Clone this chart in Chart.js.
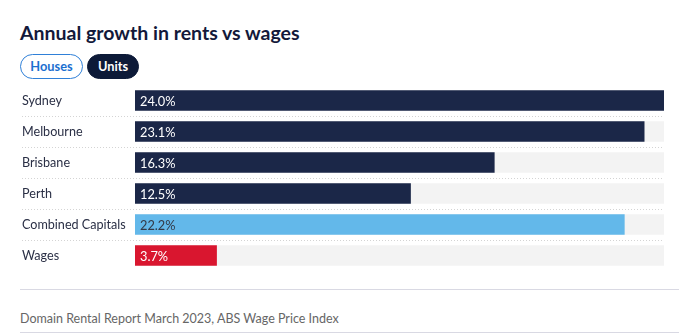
<!DOCTYPE html>
<html><head><meta charset="utf-8">
<script src="https://cdn.jsdelivr.net/npm/chart.js@4"></script>
<style>
html,body{margin:0;padding:0;background:#fff;width:699px;height:334px;overflow:hidden;font-family:Lato,sans-serif;}
#title{position:absolute;left:20px;top:21px;font-size:19.5px;font-weight:700;color:#13193a;}
.btn{position:absolute;top:54px;height:25px;box-sizing:border-box;border-radius:13px;font-size:12.8px;font-weight:700;line-height:23px;text-align:center;}
#houses{left:20px;width:63px;border:1.5px solid #2f80d8;color:#1b6fd0;background:#fff;}
#units{left:87px;width:52px;background:#0d1a38;color:#fff;border:1px solid #0d1a38;}
#wrap{position:absolute;left:0;top:85px;width:699px;height:186px;}
#line1{position:absolute;left:20px;width:659px;top:289px;height:1px;background:#d9d9e3;}
#line2{position:absolute;left:20px;width:659px;top:332px;height:1px;background:#d9d9e3;}
#source{position:absolute;left:20px;top:311px;font-size:12.5px;color:#666;}
</style></head>
<body>
<div id="title">Annual growth in rents vs wages</div>
<div class="btn" id="houses">Houses</div>
<div class="btn" id="units">Units</div>
<div id="wrap"><canvas id="c"></canvas></div>
<div id="line1"></div>
<div id="source">Domain Rental Report March 2023, ABS Wage Price Index</div>
<div id="line2"></div>
<script>
const categories = ["Sydney","Melbourne","Brisbane","Perth","Combined Capitals","Wages"];
const values = [24.0, 23.1, 16.3, 12.5, 22.2, 3.7];
const barColors = ["#1b2748","#1b2748","#1b2748","#1b2748","#63b8ea","#d9162f"];
const labelColors = ["#ffffff","#ffffff","#ffffff","#ffffff","#333a48","#ffffff"];
const axisMax = Math.max(...values);
const trackValues = categories.map(() => axisMax);

const overlay = {
  id: 'overlay',
  afterDatasetsDraw(chart) {
    const ctx = chart.ctx;
    const y = chart.scales.y, x = chart.scales.x;
    ctx.save();
    ctx.strokeStyle = '#d4d4d4';
    ctx.lineWidth = 1;
    ctx.setLineDash([1, 2]);
    for (let i = 0; i < categories.length - 1; i++) {
      const yy = Math.round((y.getPixelForValue(i) + y.getPixelForValue(i + 1)) / 2) + 0.5;
      ctx.beginPath();
      ctx.moveTo(22, yy);
      ctx.lineTo(x.right, yy);
      ctx.stroke();
    }
    ctx.setLineDash([]);
    ctx.font = '12.8px Lato, sans-serif';
    ctx.textBaseline = 'middle';
    ctx.textAlign = 'left';
    values.forEach((v, i) => {
      ctx.fillStyle = labelColors[i];
      ctx.fillText(v.toFixed(1) + '%', x.getPixelForValue(0) + 5, y.getPixelForValue(i) + 1);
    });
    ctx.restore();
  }
};

new Chart(document.getElementById('c'), {
  type: 'bar',
  data: {
    labels: categories,
    datasets: [
      { data: values, backgroundColor: barColors, barThickness: 20, grouped: false, order: 0 },
      { data: trackValues, backgroundColor: '#f3f3f3', barThickness: 20, grouped: false, order: 1 }
    ]
  },
  options: {
    indexAxis: 'y',
    responsive: true,
    maintainAspectRatio: false,
    animation: false,
    layout: { padding: { left: 22, right: 35, top: 0, bottom: 0 } },
    plugins: { legend: { display: false }, tooltip: { enabled: false } },
    scales: {
      x: { display: false, min: 0, max: axisMax },
      y: {
        grid: { display: false },
        border: { display: false },
        afterFit(s) { s.width = 113; s.paddingTop = 0; s.paddingBottom = 0; },
        ticks: { crossAlign: 'far', color: '#2a2f45', font: { family: 'Lato, sans-serif', size: 12.6 }, padding: 0 }
      }
    }
  },
  plugins: [overlay]
});
</script>
</body></html>
